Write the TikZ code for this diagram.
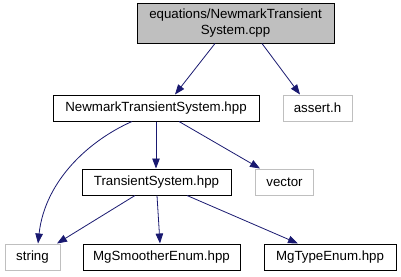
\documentclass[tikz,border=0pt]{standalone}
\usepackage{fontspec}
\setmainfont{Liberation Sans}
\usetikzlibrary{arrows.meta}
\definecolor{edgeblue}{HTML}{191970}
\definecolor{filegray}{HTML}{BFBFBF}
\definecolor{sysgray}{HTML}{BFBFBF}
\tikzset{
  filebox/.style={draw=black, line width=1pt, inner sep=0pt, font=\fontsize{13.3}{15.5}\selectfont},
  sysbox/.style={draw=sysgray, line width=1pt, inner sep=0pt, font=\fontsize{13.3}{15.5}\selectfont},
  dep/.style={draw=edgeblue, line width=0.8pt, -{Triangle[length=10pt,width=7.5pt]}, fill=none},
}
\begin{document}
\begin{tikzpicture}[x=1pt,y=-1pt]
\useasboundingbox (0,0) rectangle (401,276);
% source file
\node[filebox, fill=filegray, minimum width=197pt, minimum height=40pt, align=center] (cpp) at (235.5,23) {equations/NewmarkTransient\\System.cpp};
% headers
\node[filebox, minimum width=206pt, minimum height=26pt] (nts) at (156,108) {NewmarkTransientSystem.hpp};
\node[sysbox, minimum width=69pt, minimum height=26pt] (assert) at (317.5,108) {assert.h};
\node[filebox, minimum width=149pt, minimum height=26pt] (ts) at (156.5,182) {TransientSystem.hpp};
\node[sysbox, minimum width=58pt, minimum height=26pt] (vector) at (284.5,182) {vector};
\node[sysbox, minimum width=55pt, minimum height=26pt] (string) at (32.5,257) {string};
\node[filebox, minimum width=157pt, minimum height=26pt] (smoother) at (161.5,257) {MgSmootherEnum.hpp};
\node[filebox, minimum width=132pt, minimum height=26pt] (mgtype) at (330,257) {MgTypeEnum.hpp};
% include edges
\draw[dep] (cpp.south -| 215,0) -- (nts.north -| 175,0);
\draw[dep] (cpp.south -| 262,0) -- (assert.north -| 300,0);
\draw[dep] (nts.south -| 132,0) .. controls (90,140) and (45,180) .. (string.north -| 38,0);
\draw[dep] (nts.south -| 156,0) -- (ts.north -| 156,0);
\draw[dep] (nts.south -| 179,0) -- (vector.north -| 260,0);
\draw[dep] (ts.south -| 135,0) -- (string.north -| 57,0);
\draw[dep] (ts.south -| 157,0) -- (smoother.north -| 160,0);
\draw[dep] (ts.south -| 187,0) -- (mgtype.north -| 298,0);
\end{tikzpicture}
\end{document}
